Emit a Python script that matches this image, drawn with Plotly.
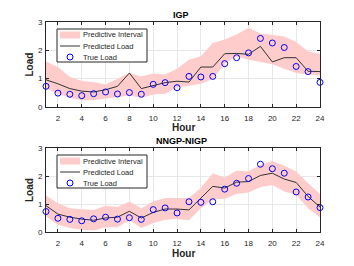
import plotly.graph_objects as go

hours = list(range(1, 25))
true_load = [0.73, 0.49, 0.45, 0.40, 0.47, 0.53, 0.46, 0.51, 0.45, 0.80, 0.86, 0.68,
             1.08, 1.06, 1.08, 1.53, 1.74, 1.91, 2.42, 2.26, 2.10, 1.43, 1.25, 0.87]

igp_pred = [0.96, 0.82, 0.65, 0.56, 0.53, 0.61, 0.73, 1.20, 0.65, 0.76, 0.86, 0.91,
            0.88, 1.41, 1.41, 1.88, 1.89, 1.86, 2.14, 1.59, 1.74, 1.74, 1.26, 1.25]
igp_upper = [1.61, 1.41, 1.06, 0.92, 0.88, 0.79, 1.00, 1.20, 1.08, 1.18, 1.15, 1.35,
             1.67, 1.79, 2.26, 2.38, 2.56, 2.80, 2.59, 2.55, 2.49, 2.29, 1.96, 1.88]
igp_lower = [0.65, 0.47, 0.33, 0.24, 0.24, 0.29, 0.35, 0.41, 0.33, 0.44, 0.47, 0.70,
             0.75, 0.82, 0.99, 1.53, 1.79, 1.67, 1.59, 1.51, 1.35, 1.20, 1.15, 1.12]

nn_pred = [0.94, 0.64, 0.53, 0.46, 0.42, 0.50, 0.53, 0.74, 0.50, 0.70, 0.82, 0.82,
           0.79, 1.21, 1.63, 1.57, 1.78, 1.80, 2.02, 2.10, 1.89, 1.77, 1.27, 0.89]
nn_upper = [1.30, 1.03, 0.85, 0.82, 0.79, 0.94, 0.89, 1.09, 0.85, 1.09, 1.21, 1.21,
            1.21, 1.57, 2.10, 1.95, 2.19, 2.16, 2.40, 2.54, 2.37, 2.16, 1.74, 1.36]
nn_lower = [0.56, 0.26, 0.14, 0.08, 0.05, 0.17, 0.17, 0.42, 0.14, 0.32, 0.44, 0.46,
            0.42, 0.85, 1.17, 1.19, 1.36, 1.41, 1.60, 1.68, 1.45, 1.33, 0.85, 0.53]

titles = ["IGP", "NNGP-NIGP"]
legend_labels = ["Predictive Interval", "Predicted Load", "True Load"]
x_ticks = list(range(2, 25, 2))
y_ticks = [0, 1, 2, 3]

# page body has an 8px margin: figure is drawn at (8, 8)
OFF = 8
W, H = 354 - OFF, 266 - OFF
FONT = "Liberation Sans, Arial, sans-serif"
BAND = "rgb(255,204,204)"
LINE = "#333333"
BLUE = "#0000ff"
TXT = "#262626"


def PX(px):
    return (px - OFF) / W


def PY(py):
    return 1 - (py - OFF) / H


fig = go.Figure()

panels = [
    dict(pred=igp_pred, up=igp_upper, lo=igp_lower, xa="x", ya="y"),
    dict(pred=nn_pred, up=nn_upper, lo=nn_lower, xa="x2", ya="y2"),
]
for p in panels:
    fig.add_trace(go.Scatter(
        x=hours + hours[::-1], y=p["up"] + p["lo"][::-1], fill="toself",
        fillcolor=BAND, line=dict(width=0, color=BAND), mode="lines",
        name=legend_labels[0], xaxis=p["xa"], yaxis=p["ya"], hoverinfo="skip"))
    fig.add_trace(go.Scatter(
        x=hours, y=p["pred"], mode="lines", line=dict(color=LINE, width=1),
        name=legend_labels[1], xaxis=p["xa"], yaxis=p["ya"]))
    fig.add_trace(go.Scatter(
        x=hours, y=true_load, mode="markers",
        marker=dict(symbol="circle-open", color=BLUE, size=6, line=dict(width=1)),
        name=legend_labels[2], xaxis=p["xa"], yaxis=p["ya"], cliponaxis=False))

L, R = 46, 320
panel_px = [(22, 107), (148, 232)]

axis_common = dict(
    showline=True, linecolor=TXT, linewidth=1, mirror="ticks",
    showgrid=True, gridcolor="#e8e8e8", gridwidth=1, zeroline=False,
    ticks="inside", ticklen=3, tickcolor=TXT, tickwidth=1,
    tickfont=dict(family=FONT, size=8, color=TXT), automargin=False,
)

xa = dict(axis_common, range=[1, 24], tickvals=x_ticks, domain=[PX(L), PX(R)],
          ticklabelstandoff=3)
ya = dict(axis_common, range=[0, 3], tickvals=y_ticks, ticklabelstandoff=1)

fig.update_layout(
    template="none",
    width=W, height=H, margin=dict(l=0, r=0, t=0, b=0, pad=0, autoexpand=False),
    paper_bgcolor="white", plot_bgcolor="white",
    font=dict(family=FONT, size=8, color=TXT),
    xaxis=dict(xa, anchor="y"),
    yaxis=dict(ya, domain=[PY(panel_px[0][1]), PY(panel_px[0][0])], anchor="x"),
    xaxis2=dict(xa, anchor="y2"),
    yaxis2=dict(ya, domain=[PY(panel_px[1][1]), PY(panel_px[1][0])], anchor="x2"),
    showlegend=False,
)

ann = []
shapes = []


def text(s, x, y, size, color=TXT, xanchor="center", angle=0):
    ann.append(dict(text=s, x=PX(x), y=PY(y), xref="paper", yref="paper",
                    xanchor=xanchor, yanchor="middle", showarrow=False,
                    textangle=angle, font=dict(family=FONT, size=size, color=color)))


for i, (top, bot) in enumerate(panel_px):
    cx = (L + R) / 2
    text("<b>%s</b>" % titles[i], cx - 2, top - 7, 9, "#000000")
    text("<b>Hour</b>", cx, bot + 21, 10)
    text("<b>Load</b>", 29, (top + bot) / 2, 10, angle=-90)

    # legend box (drawn manually to match compact layout)
    by = top + 7
    shapes.append(dict(type="rect", xref="paper", yref="paper",
                       x0=PX(57), x1=PX(147), y0=PY(by), y1=PY(by + 33),
                       fillcolor="white", line=dict(color=TXT, width=1)))
    shapes.append(dict(type="rect", xref="paper", yref="paper",
                       x0=PX(60), x1=PX(80), y0=PY(by + 2.5), y1=PY(by + 9.5),
                       fillcolor=BAND, line=dict(width=0)))
    shapes.append(dict(type="line", xref="paper", yref="paper",
                       x0=PX(60), x1=PX(80), y0=PY(by + 17), y1=PY(by + 17),
                       line=dict(color=LINE, width=1)))
    shapes.append(dict(type="circle", xref="paper", yref="paper",
                       x0=PX(67), x1=PX(73), y0=PY(by + 25), y1=PY(by + 31),
                       line=dict(color=BLUE, width=1)))
    for k, dy in enumerate([6, 17, 28]):
        text(legend_labels[k], 81, by + dy, 7.5, xanchor="left")

fig.update_layout(annotations=ann, shapes=shapes)

fig.write_html("out.html")
